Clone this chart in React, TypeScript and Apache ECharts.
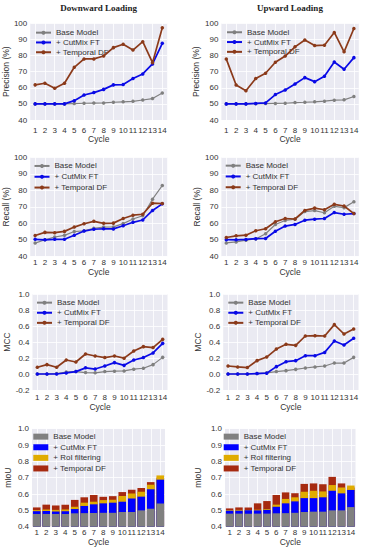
import React, { useEffect, useRef } from 'react';
import * as echarts from 'echarts';

const cycles = ['1', '2', '3', '4', '5', '6', '7', '8', '9', '10', '11', '12', '13', '14'];

const lineNames = ['Base Model', '+ CutMix FT', '+ Temporal DF'];
const barNames = ['Base Model', '+ CutMix FT', '+ RoI filtering', '+ Temporal DF'];

// Precision (%)
const precDownBase = [50, 50, 50, 50, 50.2, 50.4, 50.5, 50.6, 51, 51.3, 51.6, 52.4, 53.3, 56.8];
const precDownCut = [50, 50, 50, 50, 52, 55.5, 57, 59, 61.8, 62, 65.7, 68.6, 74.8, 87.6];
const precDownTemp = [61.8, 62.8, 59.7, 62.8, 72.7, 77.9, 77.9, 79.7, 84.9, 87, 83.4, 88.6, 75.6, 97.3];
const precUpBase = [50, 50, 50, 50.1, 50.2, 50.3, 50.4, 50.8, 51, 51.3, 51.7, 52.3, 52.5, 54.6];
const precUpCut = [50, 50, 50, 50.3, 50.6, 55.8, 58.6, 62.3, 66.3, 63.8, 67.1, 76, 71.5, 78.7];
const precUpTemp = [77.8, 61.7, 58.2, 65.7, 69, 75.8, 79.7, 85.4, 89.6, 86.2, 86.4, 94.3, 82.3, 96.8];

// Recall (%)
const recDownBase = [48, 50, 51.7, 52.7, 55, 55.5, 57, 57.7, 57.8, 59.8, 62.6, 64.6, 74.6, 82.9];
const recDownCut = [50.3, 50, 50.3, 50.3, 52.8, 55.3, 56.4, 56.7, 56.6, 58.5, 60.6, 62, 67.8, 71.8];
const recDownTemp = [52.6, 54.5, 54.3, 55.1, 57.7, 59.7, 61.2, 60, 60.1, 62.9, 64.9, 65.5, 72.2, 72];
const recUpBase = [48.1, 48.7, 49.8, 50.5, 53.7, 59.3, 61.7, 62.5, 67.1, 67.7, 66.4, 70.3, 69.5, 73];
const recUpCut = [50.1, 50, 50.2, 50.7, 50.8, 55.2, 58.3, 59.3, 61.9, 62.5, 62.9, 66.5, 65.5, 65.9];
const recUpTemp = [51.4, 52.4, 52.8, 55.5, 56.7, 60.9, 62.9, 62.6, 67.8, 69.2, 68.2, 71.5, 70.5, 65.9];

// MCC
const mccDownBase = [0, 0, 0.005, 0.025, 0.03, 0.018, 0.015, 0.03, 0.035, 0.038, 0.06, 0.072, 0.117, 0.208];
const mccDownCut = [0, 0, 0, 0.013, 0.03, 0.077, 0.062, 0.1, 0.142, 0.108, 0.175, 0.205, 0.263, 0.383];
const mccDownTemp = [0.085, 0.117, 0.085, 0.175, 0.15, 0.25, 0.225, 0.205, 0.225, 0.198, 0.288, 0.342, 0.33, 0.433];
const mccUpBase = [0, 0, 0, 0.005, 0.015, 0.03, 0.042, 0.058, 0.075, 0.088, 0.1, 0.137, 0.137, 0.208];
const mccUpCut = [0, 0, 0, 0.005, 0.01, 0.092, 0.154, 0.167, 0.229, 0.229, 0.27, 0.412, 0.362, 0.446];
const mccUpTemp = [0.1, 0.088, 0.08, 0.167, 0.212, 0.312, 0.371, 0.358, 0.475, 0.479, 0.475, 0.617, 0.5, 0.562];

// mIoU (top of each bar, bars overlap from the baseline)
const miouDownBase = [0.478, 0.478, 0.478, 0.478, 0.482, 0.483, 0.484, 0.485, 0.485, 0.49, 0.49, 0.5, 0.51, 0.542];
const miouDownCut = [0.495, 0.496, 0.493, 0.495, 0.508, 0.527, 0.537, 0.543, 0.547, 0.553, 0.573, 0.584, 0.629, 0.688];
const miouDownRoi = [0.502, 0.505, 0.503, 0.505, 0.522, 0.547, 0.553, 0.563, 0.565, 0.588, 0.604, 0.614, 0.657, 0.714];
const miouDownTemp = [0.518, 0.535, 0.53, 0.535, 0.564, 0.58, 0.594, 0.583, 0.587, 0.612, 0.626, 0.637, 0.673, 0.7];
const miouUpBase = [0.48, 0.48, 0.48, 0.48, 0.48, 0.482, 0.483, 0.485, 0.49, 0.492, 0.492, 0.5, 0.5, 0.52];
const miouUpCut = [0.498, 0.498, 0.5, 0.5, 0.503, 0.522, 0.543, 0.555, 0.575, 0.575, 0.58, 0.62, 0.604, 0.625];
const miouUpRoi = [0.502, 0.503, 0.503, 0.504, 0.508, 0.535, 0.57, 0.58, 0.614, 0.62, 0.616, 0.655, 0.64, 0.652];
const miouUpTemp = [0.512, 0.518, 0.518, 0.543, 0.557, 0.594, 0.61, 0.605, 0.662, 0.665, 0.66, 0.705, 0.665, 0.64];

const TEXT = '#333333';
const FONT = 'Liberation Sans, Arial, sans-serif';
const lineColors = ['#808080', '#0a0ae6', '#8b3a1a'];
const lineWidths = [1.2, 1.7, 1.7];
const barColors = ['#808080', '#0000ff', '#e0ac00', '#a62a10'];

type Panel = {
  kind: 'line' | 'bar';
  grid: number[];
  yMin: number; yMax: number; yInt: number; dec: number;
  yName: string; yNameGap: number;
  xMargin: number; xNameGap: number;
  legend: number[]; // left, top, itemGap
  data: number[][];
};

const panels: Panel[] = [
  { kind: 'line', grid: [30, 23.3, 137.2, 96.7], yMin: 40, yMax: 100, yInt: 10, dec: 0, yName: 'Precision (%)', yNameGap: 18, xMargin: 6, xNameGap: 13, legend: [35, 28, 0.5], data: [precDownBase, precDownCut, precDownTemp] },
  { kind: 'line', grid: [221.4, 23.3, 137.4, 96.7], yMin: 40, yMax: 100, yInt: 10, dec: 0, yName: 'Precision (%)', yNameGap: 20.5, xMargin: 6, xNameGap: 13, legend: [226, 27.6, 0.5], data: [precUpBase, precUpCut, precUpTemp] },
  { kind: 'line', grid: [30, 157.3, 137.2, 99], yMin: 40, yMax: 100, yInt: 10, dec: 0, yName: 'Recall (%)', yNameGap: 17, xMargin: 2, xNameGap: 10, legend: [33.5, 161.3, 1.5], data: [recDownBase, recDownCut, recDownTemp] },
  { kind: 'line', grid: [221.4, 157.3, 137.4, 99], yMin: 40, yMax: 100, yInt: 10, dec: 0, yName: 'Recall (%)', yNameGap: 20, xMargin: 2, xNameGap: 10, legend: [224.7, 161, 1.5], data: [recUpBase, recUpCut, recUpTemp] },
  { kind: 'line', grid: [32.5, 294, 135, 96], yMin: -0.2, yMax: 1.0, yInt: 0.2, dec: 1, yName: 'MCC', yNameGap: 20.5, xMargin: 3, xNameGap: 12.5, legend: [36, 298, 0.8], data: [mccDownBase, mccDownCut, mccDownTemp] },
  { kind: 'line', grid: [223.2, 294, 135.3, 96], yMin: -0.2, yMax: 1.0, yInt: 0.2, dec: 1, yName: 'MCC', yNameGap: 19, xMargin: 3, xNameGap: 12.5, legend: [227.3, 298, 0.8], data: [mccUpBase, mccUpCut, mccUpTemp] },
  { kind: 'bar', grid: [32, 428.7, 133, 98], yMin: 0.4, yMax: 1.0, yInt: 0.1, dec: 1, yName: 'mIoU', yNameGap: 20, xMargin: 2, xNameGap: 11, legend: [33.3, 432, 1.3], data: [miouDownBase, miouDownCut, miouDownRoi, miouDownTemp] },
  { kind: 'bar', grid: [225, 428.7, 130.5, 98], yMin: 0.4, yMax: 1.0, yInt: 0.1, dec: 1, yName: 'mIoU', yNameGap: 23, xMargin: 2, xNameGap: 11, legend: [223.7, 432, 1.3], data: [miouUpBase, miouUpCut, miouUpRoi, miouUpTemp] },
];

function buildOption() {
  const grid: any[] = [];
  const xAxis: any[] = [];
  const yAxis: any[] = [];
  const series: any[] = [];
  const legend: any[] = [];

  panels.forEach((p, i) => {
    grid.push({
      left: p.grid[0], top: p.grid[1], width: p.grid[2], height: p.grid[3],
      show: true, backgroundColor: '#EAEAF2', borderWidth: 0, containLabel: false,
    });
    xAxis.push({
      type: 'category', gridIndex: i, data: cycles, boundaryGap: true,
      axisLine: { show: false }, axisTick: { show: false },
      axisLabel: { fontSize: 8, color: TEXT, margin: p.xMargin, fontFamily: FONT, interval: 0 },
      splitLine: { show: true, alignWithLabel: true, lineStyle: { color: '#ffffff', width: 0.8 } },
      name: 'Cycle', nameLocation: 'middle', nameGap: p.xNameGap,
      nameTextStyle: { fontSize: 8.5, color: TEXT, fontFamily: FONT },
    });
    yAxis.push({
      type: 'value', gridIndex: i, min: p.yMin, max: p.yMax, interval: p.yInt,
      axisLine: { show: false }, axisTick: { show: false },
      axisLabel: {
        fontSize: 8, color: TEXT, margin: 3, fontFamily: FONT,
        formatter: (v: number) => (p.dec === 0 ? String(Math.round(v)) : (Math.abs(v) < 1e-9 ? '0.0' : v.toFixed(1))),
      },
      splitLine: { show: true, lineStyle: { color: '#ffffff', width: 0.8 } },
      name: p.yName, nameLocation: 'middle', nameRotate: 90, nameGap: p.yNameGap,
      nameTextStyle: { fontSize: 8.5, color: TEXT, fontFamily: FONT },
    });

    if (p.kind === 'line') {
      p.data.forEach((d, k) => {
        series.push({
          type: 'line', name: lineNames[k], xAxisIndex: i, yAxisIndex: i, data: d,
          symbol: 'circle', symbolSize: 3.5,
          lineStyle: { color: lineColors[k], width: lineWidths[k] },
          itemStyle: { color: lineColors[k] },
          z: 2 + k,
        });
      });
      legend.push({
        orient: 'vertical', left: p.legend[0], top: p.legend[1], itemGap: p.legend[2],
        itemWidth: 15, itemHeight: 5, padding: 0, selectedMode: false,
        data: lineNames,
        textStyle: { fontSize: 8, color: TEXT, fontFamily: FONT, lineHeight: 9.3 },
      });
    } else {
      // draw tallest (Temporal) first so lower ones overlay on top
      for (let k = 3; k >= 0; k--) {
        series.push({
          type: 'bar', name: 'bar:' + barNames[k], xAxisIndex: i, yAxisIndex: i, data: p.data[k],
          barWidth: '80%', barGap: '-100%', clip: true,
          itemStyle: { color: barColors[k] },
        });
      }
      legend.push({
        orient: 'vertical', left: p.legend[0], top: p.legend[1], itemGap: p.legend[2],
        itemWidth: 15, itemHeight: 6, padding: 0, selectedMode: false, icon: 'rect',
        data: barNames.map((n) => 'bar:' + n),
        formatter: (n: string) => n.replace(/^bar:/, ''),
        textStyle: { fontSize: 8, color: TEXT, fontFamily: FONT, lineHeight: 9.3 },
      });
    }
  });

  return {
    animation: false,
    backgroundColor: '#ffffff',
    title: [
      { text: 'Downward Loading', left: 98.6, top: 3, textAlign: 'center', padding: 0,
        textStyle: { fontFamily: 'Liberation Serif, serif', fontWeight: 'bold', fontSize: 9, color: '#222' } },
      { text: 'Upward Loading', left: 290, top: 3, textAlign: 'center', padding: 0,
        textStyle: { fontFamily: 'Liberation Serif, serif', fontWeight: 'bold', fontSize: 9, color: '#222' } },
    ],
    grid, xAxis, yAxis, series, legend,
  };
}

export default function App() {
  const ref = useRef<HTMLDivElement>(null);
  useEffect(() => {
    const chart = echarts.init(ref.current as HTMLDivElement, undefined, { renderer: 'svg' });
    chart.setOption(buildOption() as any);
    return () => chart.dispose();
  }, []);
  return (
    <div
      ref={ref}
      style={{ position: 'absolute', left: 0, top: 0, width: 366, height: 550, background: '#ffffff' }}
    />
  );
}
